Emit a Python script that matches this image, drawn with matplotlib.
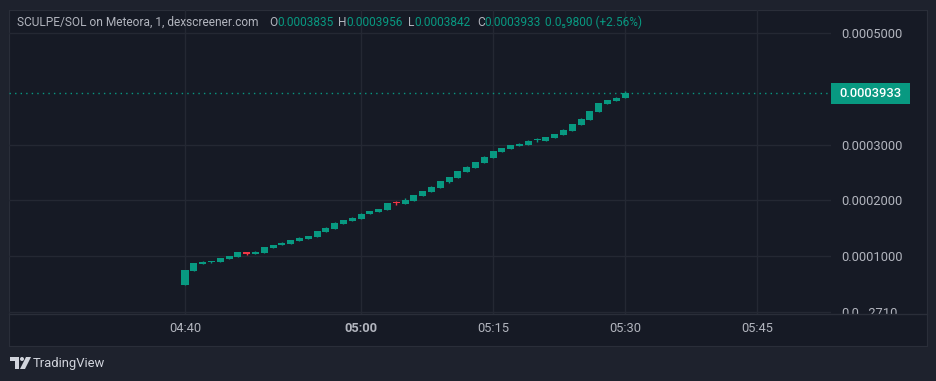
import numpy as np
import pandas as pd
import matplotlib
matplotlib.use("Agg")
import matplotlib.pyplot as plt
import matplotlib.dates as mdates
from matplotlib.patches import Rectangle, Polygon, Circle
from matplotlib.transforms import Bbox

# ---------------- data (1 min candles, SCULPE/SOL) ----------------
times = pd.date_range("2024-01-01 04:40", periods=51, freq="1min")
opens = [0.0000480, 0.0000731, 0.0000856, 0.0000892, 0.0000892, 0.0000946, 0.0000982, 0.0001072, 0.0001036, 0.0001054,
         0.0001144, 0.0001190, 0.0001216, 0.0001270, 0.0001306, 0.0001342, 0.0001432, 0.0001486, 0.0001576, 0.0001630,
         0.0001666, 0.0001755, 0.0001790, 0.0001830, 0.0001969, 0.0001933, 0.0001987, 0.0002077, 0.0002149, 0.0002221,
         0.0002329, 0.0002400, 0.0002508, 0.0002580, 0.0002670, 0.0002759, 0.0002867, 0.0002921, 0.0002975, 0.0002993,
         0.0003080, 0.0003073, 0.0003119, 0.0003173, 0.0003245, 0.0003352, 0.0003442, 0.0003586, 0.0003730, 0.0003784,
         0.0003835]
closes = [0.0000750, 0.0000874, 0.0000892, 0.0000910, 0.0000964, 0.0001000, 0.0001072, 0.0001036, 0.0001072, 0.0001162,
          0.0001198, 0.0001230, 0.0001288, 0.0001324, 0.0001360, 0.0001450, 0.0001504, 0.0001594, 0.0001648, 0.0001684,
          0.0001755, 0.0001800, 0.0001845, 0.0001951, 0.0001951, 0.0002005, 0.0002095, 0.0002167, 0.0002239, 0.0002347,
          0.0002419, 0.0002526, 0.0002598, 0.0002688, 0.0002777, 0.0002885, 0.0002939, 0.0002993, 0.0003011, 0.0003065,
          0.0003086, 0.0003137, 0.0003191, 0.0003263, 0.0003370, 0.0003460, 0.0003604, 0.0003748, 0.0003802, 0.0003838,
          0.0003933]
highs = [0.0000750, 0.0000874, 0.0000910, 0.0000910, 0.0000964, 0.0001000, 0.0001072, 0.0001072, 0.0001090, 0.0001162,
         0.0001198, 0.0001250, 0.0001288, 0.0001342, 0.0001360, 0.0001450, 0.0001522, 0.0001612, 0.0001648, 0.0001702,
         0.0001773, 0.0001800, 0.0001845, 0.0001951, 0.0001987, 0.0002041, 0.0002095, 0.0002167, 0.0002257, 0.0002347,
         0.0002419, 0.0002526, 0.0002616, 0.0002688, 0.0002795, 0.0002885, 0.0002939, 0.0002993, 0.0003029, 0.0003083,
         0.0003119, 0.0003137, 0.0003191, 0.0003281, 0.0003370, 0.0003478, 0.0003604, 0.0003748, 0.0003802, 0.0003856,
         0.0003956]
lows = [0.0000480, 0.0000731, 0.0000856, 0.0000874, 0.0000892, 0.0000946, 0.0000982, 0.0001018, 0.0001036, 0.0001054,
        0.0001144, 0.0001190, 0.0001216, 0.0001270, 0.0001306, 0.0001342, 0.0001432, 0.0001486, 0.0001576, 0.0001630,
        0.0001666, 0.0001755, 0.0001790, 0.0001830, 0.0001915, 0.0001933, 0.0001987, 0.0002077, 0.0002149, 0.0002221,
        0.0002311, 0.0002400, 0.0002508, 0.0002580, 0.0002670, 0.0002759, 0.0002867, 0.0002921, 0.0002975, 0.0002993,
        0.0003047, 0.0003073, 0.0003119, 0.0003173, 0.0003245, 0.0003352, 0.0003442, 0.0003586, 0.0003730, 0.0003784,
        0.0003835]

price_ticks = [0.0, 0.0001, 0.0002, 0.0003, 0.0005]
price_labels = ["0.0\u2081\u20802710", "0.0001000", "0.0002000", "0.0003000", "0.0005000"]
time_ticks = ["04:40", "05:00", "05:15", "05:30", "05:45"]
last_price = 0.0003933
title = "SCULPE/SOL on Meteora, 1, dexscreener.com"
ohlc_keys = ["O", "H", "L", "C", ""]
ohlc_vals = ["0.0003835", "0.0003956", "0.0003842", "0.0003933", "0.0\u20859800 (+2.56%)"]

# ---------------- style ----------------
OUTER = "#1e222d"
INNER = "#161a25"
GRID = "#242833"
BORDER = "#2a2e39"
TXT = "#b2b5be"
UP = "#089981"
DOWN = "#f23645"
plt.rcParams["font.family"] = ["Roboto", "DejaVu Sans"]

W, H = 937, 381
fig = plt.figure(figsize=(W / 100, H / 100), dpi=100, facecolor=OUTER)

def rect(x0, y0, x1, y1):
    return [x0 / W, 1 - y1 / H, (x1 - x0) / W, (y1 - y0) / H]

# panel background
panel = fig.add_axes(rect(9, 10, 927, 346))
panel.set_facecolor(INNER)
panel.set_xticks([]); panel.set_yticks([])
for s in panel.spines.values():
    s.set_color(BORDER)

# main chart
ax = fig.add_axes(rect(9, 10, 831, 314))
ax.patch.set_alpha(0)
for s in ax.spines.values():
    s.set_visible(False)

day = pd.Timestamp("2024-01-01")
ax.set_xlim(day + pd.Timedelta(minutes=260), day + pd.Timedelta(minutes=353.4))
ax.set_ylim(-0.0000041, 0.0005417)

xs = mdates.date2num(times)
w = 0.8 / 1440
for x, o, h, l, c in zip(xs, opens, highs, lows, closes):
    col = UP if c >= o else DOWN
    ax.vlines(x, l, h, color=col, lw=1, zorder=3)
    body = max(abs(c - o), 0.0000012)
    ax.add_patch(Rectangle((x - w / 2, min(o, c)), w, body, facecolor=col, edgecolor="none", zorder=4))

# last price dotted line
ax.axhline(last_price, color=UP, lw=1, ls=(0, (1, 3)), zorder=2)

tt = [mdates.date2num(pd.Timestamp("2024-01-01 " + t)) for t in time_ticks]
ax.set_xticks(tt)
ax.set_xticklabels(time_ticks)
ax.xaxis.set_tick_params(length=0, pad=6, labelsize=9.3, labelcolor=TXT)
for lab in ax.get_xticklabels():
    if lab.get_text() == "05:00":
        lab.set_fontweight("bold")

ax.yaxis.tick_right()
ax.set_yticks(price_ticks)
ax.set_yticklabels(price_labels)
ax.yaxis.set_tick_params(length=0, pad=7.5, labelsize=9.3, labelcolor=TXT)
# the price scale is cut at the time axis line
clip = Bbox.from_extents(831, H - 314, 927, H - 10)
for lab in ax.get_yticklabels():
    lab.set_clip_box(clip)
    lab.set_clip_on(True)
ax.grid(True, color=GRID, lw=1)
ax.set_axisbelow(True)

# overlay in pixel coordinates
ov = fig.add_axes([0, 0, 1, 1])
ov.set_xlim(0, W); ov.set_ylim(H, 0)
ov.axis("off")
ov.patch.set_alpha(0)

# time axis separator
ov.plot([9, 927], [314, 314], color=BORDER, lw=1)

# last price label
ov.add_patch(Rectangle((831, 83), 79, 21, facecolor=UP, edgecolor="none"))
ov.text(870, 93.5, "0.0003933", color="white", fontsize=9.3, fontweight="medium", ha="center", va="center")

# header
fig.canvas.draw()
r = fig.canvas.get_renderer()
ov.text(17, 22, title, color=TXT, fontsize=8.6, va="center", ha="left")
for key, val, x0 in zip(ohlc_keys, ohlc_vals, [269, 338, 408, 477, 545]):
    t = ov.text(x0, 22, key, color=TXT, fontsize=8.6, va="center", ha="left")
    x1 = x0 + (t.get_window_extent(renderer=r).width if key else 0)
    ov.text(x1, 22, val, color=UP, fontsize=8.6, va="center", ha="left")

# TradingView logo
ov.add_patch(Polygon([[10, 357], [19, 357], [19, 369], [15, 369], [15, 361], [10, 361]], closed=True, facecolor="#d1d4dc", edgecolor="none"))
ov.add_patch(Circle((22, 359), 2, facecolor="#d1d4dc", edgecolor="none"))
ov.add_patch(Polygon([[26, 357], [31, 357], [25, 369], [20, 369]], closed=True, facecolor="#d1d4dc", edgecolor="none"))
ov.text(33, 363, "TradingView", color="#d1d4dc", fontsize=9.4, va="center", ha="left")

fig.savefig("out.png", dpi=100, facecolor=OUTER)
